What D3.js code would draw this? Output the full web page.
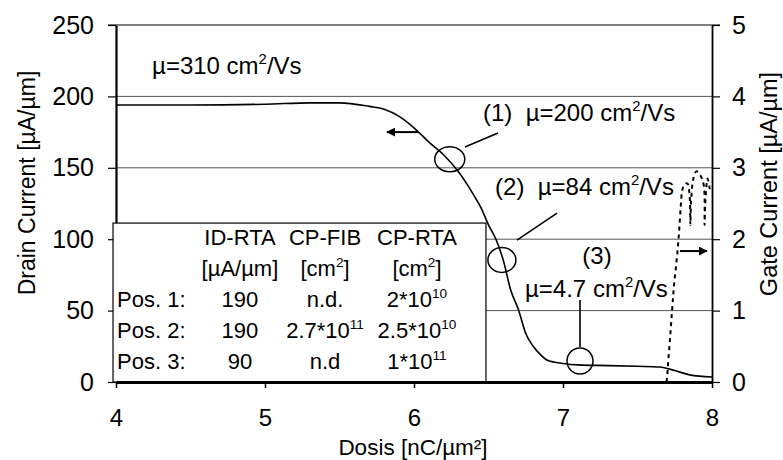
<!DOCTYPE html>
<html><head><meta charset="utf-8">
<script src="https://cdn.jsdelivr.net/npm/d3@7"></script>
<style>
body{margin:0;background:#fff;}
svg{display:block;font-family:"Liberation Sans",Arial,sans-serif;}
</style></head>
<body><svg id="c" width="783" height="460"></svg>
<script>
// ---- data ----
const dosis = [4.0, 4.5, 5.0, 5.3, 5.5, 5.7, 5.8, 5.9, 6.0, 6.1, 6.2, 6.3, 6.4, 6.45, 6.5, 6.55, 6.6, 6.65, 6.7, 6.75, 6.8, 6.85, 6.9, 7.0, 7.1, 7.3, 7.5, 7.65, 7.75, 7.85, 8.0];
const drainCurrent = [194, 194, 194.5, 195.5, 195.5, 193, 191, 186, 178, 168, 159, 147, 131, 122, 110, 100, 85, 64, 51, 34, 25, 19, 15, 13, 12, 11.5, 11, 10.5, 8, 5, 3.5];
const gateDosis = [7.695, 7.70, 7.705, 7.718, 7.732, 7.745, 7.765, 7.779, 7.79, 7.80, 7.815, 7.835, 7.85, 7.855, 7.86, 7.875, 7.895, 7.92, 7.945, 7.95, 7.955, 7.97, 7.985];
const gateCurrent = [0.0, 0.1, 0.25, 0.6, 1.0, 1.35, 1.75, 2.1, 2.45, 2.68, 2.77, 2.78, 2.6, 2.2, 2.55, 2.85, 2.95, 2.9, 2.75, 2.2, 2.5, 2.85, 2.7];
const xTicks = [4, 5, 6, 7, 8];
const yTicks = [0, 50, 100, 150, 200, 250];
const y2Ticks = [0, 1, 2, 3, 4, 5];
const gridValues = [50, 100, 150, 200];
const tableHeader1 = ["ID-RTA", "CP-FIB", "CP-RTA"];
const tableHeader2 = [[{t:"[µA/µm]"}], [{t:"[cm"},{t:"2",sup:true},{t:"]"}], [{t:"[cm"},{t:"2",sup:true},{t:"]"}]];
const tableRowLabels = ["Pos. 1:", "Pos. 2:", "Pos. 3:"];
const tableIdRta = ["190", "190", "90"];
const tableCpFib = [[{t:"n.d."}], [{t:"2.7*10"},{t:"11",sup:true}], [{t:"n.d"}]];
const tableCpRta = [[{t:"2*10"},{t:"10",sup:true}], [{t:"2.5*10"},{t:"10",sup:true}], [{t:"1*10"},{t:"11",sup:true}]];

// ---- layout ----
const svg = d3.select("#c");
const x = d3.scaleLinear().domain([4, 8]).range([116, 712]);
const y = d3.scaleLinear().domain([0, 250]).range([382, 25]);
const y2 = d3.scaleLinear().domain([0, 5]).range([382, 25]);
const FONT = "Liberation Sans, Arial, sans-serif";
const fmt = d3.format("d");

function richText(g, segs, size) {
  let up = false;
  segs.forEach(s => {
    const ts = g.append("tspan").text(s.t);
    if (s.sup) { ts.attr("font-size", size * 0.62).attr("dy", -size * 0.42); up = true; }
    else if (up) { ts.attr("dy", size * 0.42); up = false; }
  });
}

// gridlines
svg.append("g").selectAll("line").data(gridValues).join("line")
  .attr("x1", x(4)).attr("x2", x(8))
  .attr("y1", d => y(d)).attr("y2", d => y(d))
  .attr("stroke", "#555").attr("stroke-width", 1);
// top line (250)
svg.append("line").attr("x1", x(4) - 8).attr("x2", x(8) + 8)
  .attr("y1", y(250)).attr("y2", y(250)).attr("stroke", "#000").attr("stroke-width", 1.2);

// left axis
const gl = svg.append("g").attr("transform", `translate(${x(4)},0)`)
  .call(d3.axisLeft(y).tickValues(yTicks).tickFormat(fmt).tickSize(8).tickSizeOuter(0).tickPadding(14));
gl.select(".domain").attr("stroke-width", 2.2);
gl.selectAll(".tick line").attr("stroke-width", 1.2);
gl.selectAll("text").attr("font-size", 25).attr("font-family", FONT).attr("fill", "#000");

// right axis
const gr = svg.append("g").attr("transform", `translate(${x(8)},0)`)
  .call(d3.axisRight(y2).tickValues(y2Ticks).tickFormat(fmt).tickSize(8).tickSizeOuter(0).tickPadding(12));
gr.select(".domain").attr("stroke-width", 1.8);
gr.selectAll(".tick line").attr("stroke-width", 1.2);
gr.selectAll("text").attr("font-size", 25).attr("font-family", FONT).attr("fill", "#000");

// table box
svg.append("rect")
  .attr("x", x(3.98)).attr("y", y(111.3))
  .attr("width", x(6.483) - x(3.98)).attr("height", y(0) - y(111.3))
  .attr("fill", "#fff").attr("stroke", "#000").attr("stroke-width", 1.2);

// bottom axis
const gb = svg.append("g").attr("transform", `translate(0,${y(0)})`)
  .call(d3.axisBottom(x).tickValues(xTicks).tickFormat(fmt).tickSize(6).tickSizeOuter(0).tickPadding(20.5));
gb.select(".domain").attr("stroke-width", 2.8);
gb.selectAll(".tick line").attr("stroke-width", 1.5);
gb.selectAll("text").attr("font-size", 24).attr("font-family", FONT).attr("fill", "#000");

// table text
const TS = 22;
const colX = [4.832, 5.403, 6.020];
const rowY = [95.9, 74.2, 52.5, 30.8, 9.1];
const tg = svg.append("g").attr("font-size", TS).attr("font-family", FONT).attr("fill", "#000");
tableHeader1.forEach((h, i) => tg.append("text").attr("x", x(colX[i])).attr("y", y(rowY[0])).attr("text-anchor", "middle").text(h));
tableHeader2.forEach((h, i) => richText(tg.append("text").attr("x", x(colX[i])).attr("y", y(rowY[1])).attr("text-anchor", "middle"), h, TS));
tableRowLabels.forEach((r, i) => tg.append("text").attr("x", x(4.007)).attr("y", y(rowY[i + 2])).text(r));
tableIdRta.forEach((v, i) => tg.append("text").attr("x", x(colX[0])).attr("y", y(rowY[i + 2])).attr("text-anchor", "middle").text(v));
tableCpFib.forEach((v, i) => richText(tg.append("text").attr("x", x(colX[1])).attr("y", y(rowY[i + 2])).attr("text-anchor", "middle"), v, TS));
tableCpRta.forEach((v, i) => richText(tg.append("text").attr("x", x(colX[2])).attr("y", y(rowY[i + 2])).attr("text-anchor", "middle"), v, TS));

// drain current curve
const drainData = dosis.map((d, i) => [d, drainCurrent[i]]);
svg.append("path").datum(drainData)
  .attr("d", d3.line().x(d => x(d[0])).y(d => y(d[1])).curve(d3.curveMonotoneX))
  .attr("fill", "none").attr("stroke", "#000").attr("stroke-width", 1.6);

// gate current curve
const gateData = gateDosis.map((d, i) => [d, gateCurrent[i]]);
svg.append("path").datum(gateData)
  .attr("d", d3.line().x(d => x(d[0])).y(d => y2(d[1])).curve(d3.curveCatmullRom))
  .attr("fill", "none").attr("stroke", "#000").attr("stroke-width", 2).attr("stroke-dasharray", "4,4");

// annotation circles
const circles = [[6.24, 156, 15, 12.5], [6.59, 85.5, 14, 12.5], [7.114, 14.7, 13, 13]];
svg.append("g").selectAll("ellipse").data(circles).join("ellipse")
  .attr("cx", d => x(d[0])).attr("cy", d => y(d[1])).attr("rx", d => d[2]).attr("ry", d => d[3])
  .attr("fill", "none").attr("stroke", "#000").attr("stroke-width", 1.5);

// leader lines
const leaders = [[6.342, 164.6, 6.564, 174.4], [6.691, 99.4, 6.960, 118.3], [7.114, 57.4, 7.114, 24.5]];
svg.append("g").selectAll("line").data(leaders).join("line")
  .attr("x1", d => x(d[0])).attr("y1", d => y(d[1])).attr("x2", d => x(d[2])).attr("y2", d => y(d[3]))
  .attr("stroke", "#000").attr("stroke-width", 1.6);

// arrows
const defs = svg.append("defs");
defs.append("marker").attr("id", "ah").attr("viewBox", "0 0 10 10").attr("refX", 9).attr("refY", 5)
  .attr("markerWidth", 4.5).attr("markerHeight", 4.5).attr("orient", "auto-start-reverse")
  .append("path").attr("d", "M0,0 L10,5 L0,10 z").attr("fill", "#000");
const arrows = [[6.027, 175, 5.819, 175], [7.785, 91.7, 7.966, 91.7]];
svg.append("g").selectAll("line").data(arrows).join("line")
  .attr("x1", d => x(d[0])).attr("y1", d => y(d[1])).attr("x2", d => x(d[2])).attr("y2", d => y(d[3]))
  .attr("stroke", "#000").attr("stroke-width", 2).attr("marker-end", "url(#ah)");

// annotation texts
const AS = 24;
const notes = [
  [4.242, 215.7, "start", [{t:"µ=310 cm"},{t:"2",sup:true},{t:"/Vs"}]],
  [6.463, 182.8, "start", [{t:"(1)  µ=200 cm"},{t:"2",sup:true},{t:"/Vs"}]],
  [6.544, 131, "start", [{t:"(2)  µ=84 cm"},{t:"2",sup:true},{t:"/Vs"}]],
  [7.228, 82.6, "middle", [{t:"(3)"}]],
  [6.745, 59.5, "start", [{t:"µ=4.7 cm"},{t:"2",sup:true},{t:"/Vs"}]]
];
const ng = svg.append("g").attr("font-size", AS).attr("font-family", FONT).attr("fill", "#000");
notes.forEach(n => richText(ng.append("text").attr("x", x(n[0])).attr("y", y(n[1])).attr("text-anchor", n[2]).style("white-space", "pre").attr("xml:space", "preserve"), n[3], AS));

// axis titles
svg.append("text").attr("transform", `translate(35,183) rotate(-90)`).attr("text-anchor", "middle")
  .attr("font-size", 23).attr("font-family", FONT).text("Drain Current [µA/µm]");
svg.append("text").attr("transform", `translate(777,184) rotate(-90)`).attr("text-anchor", "middle")
  .attr("font-size", 23.5).attr("font-family", FONT).text("Gate Current [µA/µm]");
svg.append("text").attr("x", 413).attr("y", 455).attr("text-anchor", "middle")
  .attr("font-size", 22.5).attr("font-family", FONT).text("Dosis [nC/µm²]");
</script></body></html>
